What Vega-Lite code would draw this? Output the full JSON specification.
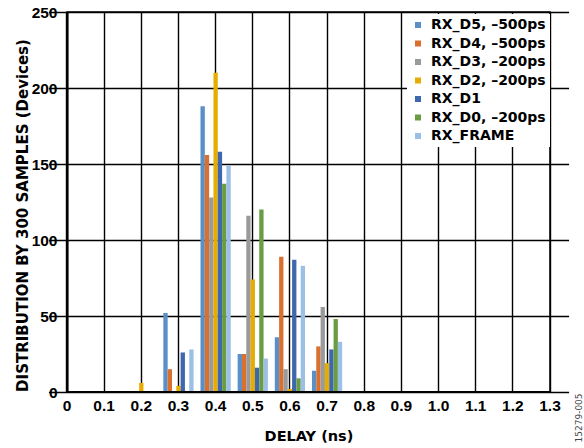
{
  "$schema": "https://vega.github.io/schema/vega-lite/v6.json",
  "width": 483,
  "height": 380,
  "autosize": {"type": "none"},
  "padding": {"left": 67, "top": 12, "right": 34, "bottom": 56},
  "background": "white",
  "config": {
    "view": {"stroke": "black", "strokeWidth": 1.5}
  },
  "data": {
    "values": [
      {"delay": "0.2", "series": "RX_D2, –200ps", "count": 6},
      {"delay": "0.3", "series": "RX_D5, –500ps", "count": 52},
      {"delay": "0.3", "series": "RX_D4, –500ps", "count": 15},
      {"delay": "0.3", "series": "RX_D2, –200ps", "count": 4},
      {"delay": "0.3", "series": "RX_D1", "count": 26},
      {"delay": "0.3", "series": "RX_FRAME", "count": 28},
      {"delay": "0.4", "series": "RX_D5, –500ps", "count": 188},
      {"delay": "0.4", "series": "RX_D4, –500ps", "count": 156},
      {"delay": "0.4", "series": "RX_D3, –200ps", "count": 128},
      {"delay": "0.4", "series": "RX_D2, –200ps", "count": 210},
      {"delay": "0.4", "series": "RX_D1", "count": 158},
      {"delay": "0.4", "series": "RX_D0, –200ps", "count": 137},
      {"delay": "0.4", "series": "RX_FRAME", "count": 149},
      {"delay": "0.5", "series": "RX_D5, –500ps", "count": 25},
      {"delay": "0.5", "series": "RX_D4, –500ps", "count": 25},
      {"delay": "0.5", "series": "RX_D3, –200ps", "count": 116},
      {"delay": "0.5", "series": "RX_D2, –200ps", "count": 74},
      {"delay": "0.5", "series": "RX_D1", "count": 16},
      {"delay": "0.5", "series": "RX_D0, –200ps", "count": 120},
      {"delay": "0.5", "series": "RX_FRAME", "count": 22},
      {"delay": "0.6", "series": "RX_D5, –500ps", "count": 36},
      {"delay": "0.6", "series": "RX_D4, –500ps", "count": 89},
      {"delay": "0.6", "series": "RX_D3, –200ps", "count": 15},
      {"delay": "0.6", "series": "RX_D2, –200ps", "count": 2},
      {"delay": "0.6", "series": "RX_D1", "count": 87},
      {"delay": "0.6", "series": "RX_D0, –200ps", "count": 9},
      {"delay": "0.6", "series": "RX_FRAME", "count": 83},
      {"delay": "0.7", "series": "RX_D5, –500ps", "count": 14},
      {"delay": "0.7", "series": "RX_D4, –500ps", "count": 30},
      {"delay": "0.7", "series": "RX_D3, –200ps", "count": 56},
      {"delay": "0.7", "series": "RX_D2, –200ps", "count": 19},
      {"delay": "0.7", "series": "RX_D1", "count": 28},
      {"delay": "0.7", "series": "RX_D0, –200ps", "count": 48},
      {"delay": "0.7", "series": "RX_FRAME", "count": 33}
    ]
  },
  "resolve": {"axis": {"y": "independent"}},
  "layer": [
    {
      "mark": {"type": "bar"},
      "encoding": {
        "x": {
          "field": "delay",
          "type": "ordinal",
          "scale": {
            "domain": ["0", "0.1", "0.2", "0.3", "0.4", "0.5", "0.6", "0.7", "0.8", "0.9", "1.0", "1.1", "1.2", "1.3"],
            "range": [-18.58, 501.58],
            "paddingInner": 0,
            "paddingOuter": 0
          },
          "axis": {
            "title": "DELAY (ns)",
            "grid": true,
            "gridColor": "black",
            "gridWidth": 1.4,
            "gridOpacity": 1,
            "domain": false,
            "ticks": false,
            "tickSize": 0,
            "bandPosition": 0.5,
            "labelAngle": 0,
            "labelPadding": 6,
            "labelFont": "Liberation Sans",
            "labelFontWeight": "bold",
            "labelFontSize": 15.5,
            "labelColor": "black",
            "titleFont": "DejaVu Sans",
            "titleFontWeight": "bold",
            "titleFontSize": 14.5,
            "titleColor": "black",
            "titleY": 48,
            "titleBaseline": "alphabetic"
          }
        },
        "xOffset": {
          "field": "series",
          "type": "nominal",
          "scale": {
            "domain": ["RX_D5, –500ps", "RX_D4, –500ps", "RX_D3, –200ps", "RX_D2, –200ps", "RX_D1", "RX_D0, –200ps", "RX_FRAME"],
            "paddingInner": 0,
            "paddingOuter": 0.8
          }
        },
        "y": {
          "field": "count",
          "type": "quantitative",
          "scale": {"domain": [0, 250], "nice": false},
          "axis": {
            "orient": "left",
            "title": "DISTRIBUTION BY 300 SAMPLES (Devices)",
            "values": [0, 50, 100, 150, 200, 250],
            "grid": true,
            "gridColor": "black",
            "gridWidth": 1.4,
            "gridOpacity": 1,
            "domainColor": "black",
            "domainWidth": 2.2,
            "ticks": false,
            "tickSize": 0,
            "labelPadding": 10,
            "labelFont": "Liberation Sans",
            "labelFontWeight": "bold",
            "labelFontSize": 15.5,
            "labelColor": "black",
            "titleFont": "DejaVu Sans",
            "titleFontWeight": "bold",
            "titleFontSize": 15,
            "titleColor": "black",
            "titleX": -40,
            "titleY": 203,
            "titleBaseline": "alphabetic"
          }
        },
        "color": {
          "field": "series",
          "type": "nominal",
          "scale": {
            "domain": ["RX_D5, –500ps", "RX_D4, –500ps", "RX_D3, –200ps", "RX_D2, –200ps", "RX_D1", "RX_D0, –200ps", "RX_FRAME"],
            "range": ["#5A8FC8", "#D9702E", "#9A9A9A", "#E6AC00", "#3F67B0", "#6A9D42", "#9CC0E5"]
          },
          "legend": {
            "orient": "none",
            "legendX": 340,
            "legendY": 2,
            "title": null,
            "fillColor": "white",
            "padding": 4,
            "symbolType": "square",
            "symbolSize": 36,
            "symbolStrokeWidth": 0,
            "labelFont": "DejaVu Sans",
            "labelFontWeight": "bold",
            "labelFontSize": 14,
            "labelColor": "black",
            "labelOffset": 6,
            "rowPadding": 4.5,
            "labelLimit": 300
          }
        }
      }
    },
    {
      "mark": {"type": "rule", "color": "black", "strokeWidth": 2.2},
      "encoding": {
        "y": {
          "datum": 0,
          "type": "quantitative",
          "axis": {
            "orient": "right",
            "title": "15279-005",
            "grid": false,
            "domain": false,
            "ticks": false,
            "labels": false,
            "titleAngle": -90,
            "titleAlign": "left",
            "titleBaseline": "middle",
            "titleX": 28,
            "titleY": 430,
            "titleFont": "DejaVu Sans",
            "titleFontSize": 9,
            "titleFontWeight": "normal",
            "titleColor": "#444444"
          }
        }
      }
    }
  ]
}
